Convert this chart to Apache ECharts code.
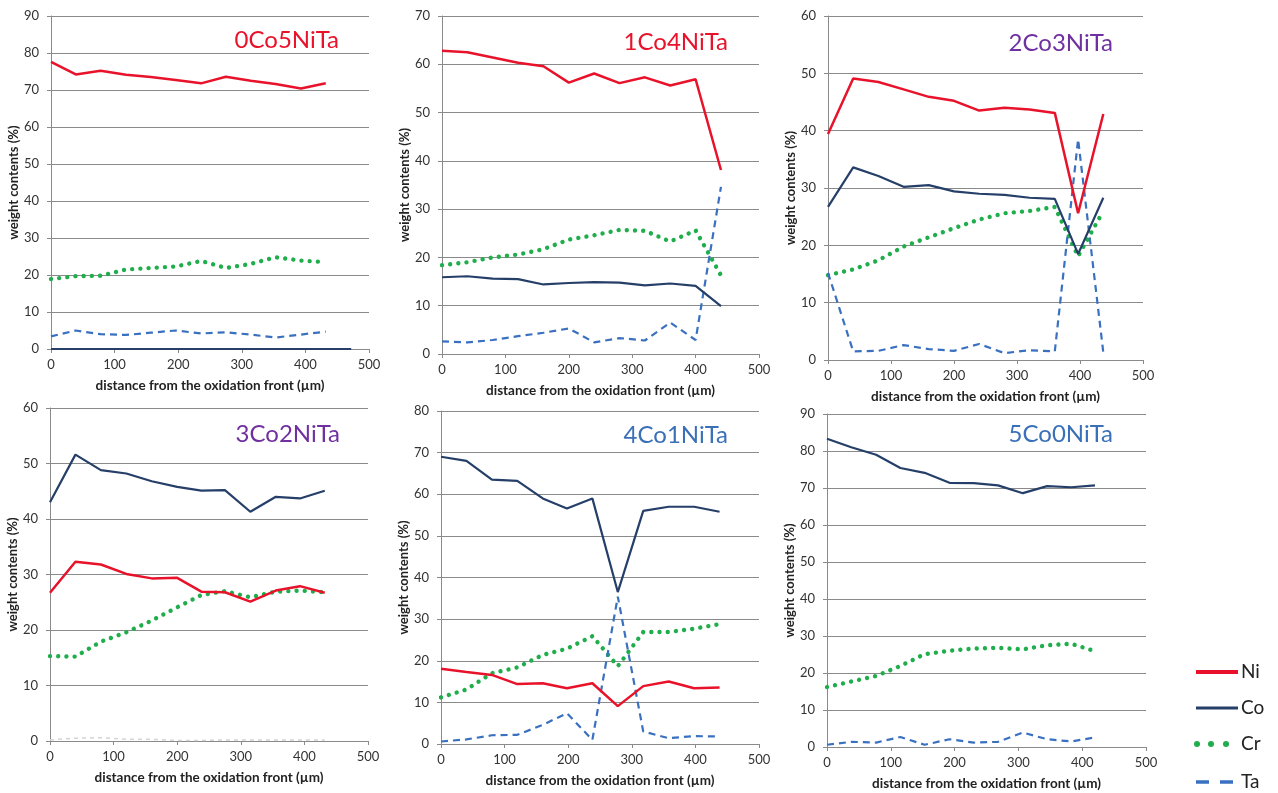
<!DOCTYPE html>
<html>
<head>
<meta charset="utf-8">
<script src="https://cdn.jsdelivr.net/npm/echarts@6/dist/echarts.min.js"></script>
<style>
html,body{margin:0;padding:0;background:#fff;}
#chart{width:1278px;height:793px;}
</style>
</head>
<body>
<div id="chart"></div>
<script>
// ---------- data ----------
const elements = ['Ni', 'Co', 'Cr', 'Ta'];
const panelNames = ['0Co5NiTa', '1Co4NiTa', '2Co3NiTa', '3Co2NiTa', '4Co1NiTa', '5Co0NiTa'];
const yMaxes = [90, 70, 60, 60, 80, 90];
const xTicks = [0, 100, 200, 300, 400, 500];

// Panel 1: 0Co5NiTa
const p1X  = [0, 39, 78, 118, 157, 196, 236, 275, 314, 353, 393, 432];
const p1Ni = [77.6, 74.2, 75.2, 74.1, 73.5, 72.7, 71.8, 73.6, 72.5, 71.6, 70.4, 71.8];
const p1CoX = [0, 472];
const p1Co = [0, 0];
const p1Cr = [18.9, 19.7, 19.8, 21.5, 21.9, 22.3, 23.8, 21.9, 23.0, 24.8, 23.9, 23.5];
const p1Ta = [3.4, 5.0, 4.0, 3.8, 4.4, 5.0, 4.2, 4.5, 3.9, 3.1, 3.9, 4.7];

// Panel 2: 1Co4NiTa
const p2X  = [0, 40, 80, 120, 160, 200, 240, 280, 320, 360, 400, 440];
const p2Ni = [62.8, 62.5, 61.4, 60.3, 59.6, 56.2, 58.1, 56.1, 57.3, 55.6, 56.9, 38.1];
const p2Co = [15.9, 16.1, 15.6, 15.5, 14.4, 14.7, 14.9, 14.8, 14.2, 14.6, 14.1, 9.9];
const p2Cr = [18.4, 19.0, 20.0, 20.6, 21.7, 23.7, 24.6, 25.7, 25.5, 23.3, 25.6, 16.3];
const p2Ta = [2.6, 2.4, 2.9, 3.7, 4.4, 5.3, 2.4, 3.3, 2.8, 6.5, 2.9, 34.6];

// Panel 3: 2Co3NiTa
const p3X  = [0, 40, 80, 120, 160, 200, 240, 280, 320, 360, 397, 437];
const p3Ni = [39.4, 49.1, 48.5, 47.2, 45.9, 45.2, 43.5, 44.0, 43.7, 43.1, 25.6, 42.9];
const p3Co = [26.7, 33.6, 32.1, 30.2, 30.5, 29.4, 29.0, 28.8, 28.3, 28.1, 18.5, 28.3];
const p3Cr = [14.8, 15.8, 17.4, 19.8, 21.4, 23.0, 24.5, 25.6, 26.0, 26.7, 18.1, 26.0];
const p3Ta = [15.2, 1.5, 1.6, 2.6, 1.9, 1.6, 2.8, 1.2, 1.7, 1.5, 38.5, 1.3];

// Panel 4: 3Co2NiTa
const p4X  = [0, 40, 80, 120, 160, 200, 238, 275, 315, 355, 393, 432];
const p4Ni = [26.7, 32.3, 31.8, 30.1, 29.3, 29.4, 26.9, 26.8, 25.1, 27.1, 27.9, 26.7];
const p4Co = [43.0, 51.6, 48.8, 48.2, 46.8, 45.8, 45.1, 45.2, 41.3, 44.0, 43.7, 45.1];
const p4Cr = [15.3, 15.2, 17.9, 19.6, 21.7, 24.1, 26.3, 27.0, 25.9, 26.9, 27.1, 26.8];
const p4Ta = [0.2, 0.5, 0.6, 0.3, 0.3, 0.1, 0.1, 0.2, 0.2, 0.2, 0.2, 0.2];

// Panel 5: 4Co1NiTa
const p5X  = [0, 40, 80, 120, 160, 198, 238, 278, 318, 358, 398, 438];
const p5Ni = [18.1, 17.3, 16.6, 14.4, 14.6, 13.4, 14.6, 9.1, 13.9, 15.0, 13.4, 13.6];
const p5Co = [69.0, 68.0, 63.5, 63.2, 59.0, 56.6, 59.0, 36.5, 56.0, 57.0, 57.0, 55.8];
const p5Cr = [11.2, 13.1, 17.0, 18.4, 21.4, 22.9, 25.9, 18.7, 26.9, 26.9, 27.7, 28.8];
const p5Ta = [0.6, 1.1, 2.1, 2.2, 4.6, 7.4, 1.0, 35.4, 3.0, 1.4, 1.9, 1.8];

// Panel 6: 5Co0NiTa
const p6X  = [0, 38, 77, 115, 153, 192, 230, 268, 307, 345, 383, 420];
const p6Co = [83.3, 81.0, 79.0, 75.4, 74.1, 71.4, 71.3, 70.7, 68.6, 70.5, 70.2, 70.7];
const p6Cr = [16.2, 17.7, 19.2, 21.9, 25.1, 26.0, 26.6, 26.8, 26.4, 27.5, 27.9, 25.9];
const p6Ta = [0.6, 1.4, 1.2, 2.7, 0.6, 2.1, 1.2, 1.4, 3.9, 2.1, 1.5, 2.6];

// ---------- layout / style ----------
const grids = [
  {left: 51,  top: 16,  width: 318, height: 333},
  {left: 442, top: 16,  width: 317, height: 338},
  {left: 828, top: 16,  width: 315, height: 344},
  {left: 50,  top: 408, width: 318, height: 333},
  {left: 441, top: 411, width: 318, height: 333},
  {left: 827, top: 414, width: 319, height: 333}
];
const titlePos = [
  {x: 339, y: 40, color: '#e8132b'},
  {x: 728, y: 42, color: '#e8132b'},
  {x: 1113, y: 43, color: '#7030a0'},
  {x: 340, y: 434, color: '#7030a0'},
  {x: 728, y: 435, color: '#3a70b8'},
  {x: 1113, y: 434, color: '#3a70b8'}
];
const FONT = 'Lato, "Open Sans", sans-serif';
const C_NI = '#e8132b', C_CO = '#253f69', C_CR = '#1fae4b', C_TA = '#3a70c0';

function pairs(xs, ys) { return xs.map((x, i) => [x, ys[i]]); }

const styles = {
  Ni: {color: C_NI, width: 2.5, type: 'solid'},
  Co: {color: C_CO, width: 2.2, type: 'solid'},
  Cr: {color: C_CR, width: 4.4, type: [0.01, 8.2], cap: 'round'},
  Ta: {color: C_TA, width: 2.2, type: [7, 5]}
};

const panelSeries = [
  {Ni: pairs(p1X, p1Ni), Co: pairs(p1CoX, p1Co), Cr: pairs(p1X, p1Cr), Ta: pairs(p1X, p1Ta)},
  {Ni: pairs(p2X, p2Ni), Co: pairs(p2X, p2Co), Cr: pairs(p2X, p2Cr), Ta: pairs(p2X, p2Ta)},
  {Ni: pairs(p3X, p3Ni), Co: pairs(p3X, p3Co), Cr: pairs(p3X, p3Cr), Ta: pairs(p3X, p3Ta)},
  {Ni: pairs(p4X, p4Ni), Co: pairs(p4X, p4Co), Cr: pairs(p4X, p4Cr), Ta: pairs(p4X, p4Ta)},
  {Ni: pairs(p5X, p5Ni), Co: pairs(p5X, p5Co), Cr: pairs(p5X, p5Cr), Ta: pairs(p5X, p5Ta)},
  {Co: pairs(p6X, p6Co), Cr: pairs(p6X, p6Cr), Ta: pairs(p6X, p6Ta)}
];

const xAxes = [], yAxes = [], series = [], titles = [];
grids.forEach((g, i) => {
  xAxes.push({
    type: 'value', gridIndex: i, min: xTicks[0], max: xTicks[xTicks.length - 1], interval: 100,
    name: 'distance from the oxidation front (µm)', nameLocation: 'middle', nameGap: 30,
    nameTextStyle: {fontFamily: FONT, fontWeight: 'bold', fontSize: 13.5, color: '#222'},
    axisLine: {show: true, lineStyle: {color: '#8a8a8a', width: 1}},
    axisTick: {show: true, length: 4, lineStyle: {color: '#8a8a8a'}},
    axisLabel: {fontFamily: FONT, fontSize: 13, color: '#333', margin: 9},
    splitLine: {show: false}
  });
  yAxes.push({
    type: 'value', gridIndex: i, min: 0, max: yMaxes[i], interval: 10,
    name: 'weight contents (%)', nameLocation: 'middle', nameGap: 30, nameRotate: 90,
    nameTextStyle: {fontFamily: FONT, fontWeight: 'bold', fontSize: 13, color: '#222'},
    axisLine: {show: true, lineStyle: {color: '#8a8a8a', width: 1}},
    axisTick: {show: true, length: 4, lineStyle: {color: '#8a8a8a'}},
    axisLabel: {fontFamily: FONT, fontSize: 13, color: '#333', margin: 12},
    splitLine: {show: true, lineStyle: {color: '#8a8a8a', width: 1}}
  });
  const ps = panelSeries[i];
  ['Cr', 'Ta', 'Co', 'Ni'].forEach(el => {
    if (!ps[el]) return;
    const st = styles[el];
    let ls = {color: st.color, width: st.width, type: st.type};
    if (st.cap) ls.cap = st.cap;
    if (i === 3 && el === 'Ta') ls = {color: '#d4d4d4', width: 1.5, type: [4, 4]};
    series.push({
      name: el, type: 'line', xAxisIndex: i, yAxisIndex: i,
      data: ps[el], symbol: 'none', smooth: false, silent: true, animation: false,
      lineStyle: ls, z: el === 'Cr' ? 2 : 3
    });
  });
  titles.push({
    text: panelNames[i], right: 1278 - titlePos[i].x - 5, top: titlePos[i].y - 17,
    textStyle: {fontFamily: FONT, fontSize: 24, fontWeight: 'normal', color: titlePos[i].color}
  });
});

// legend graphics
const legY = [672, 708, 744, 782];
const legendGraphics = [];
legendGraphics.push({type: 'line', shape: {x1: 1196, y1: legY[0], x2: 1238, y2: legY[0]}, style: {stroke: C_NI, lineWidth: 4}});
legendGraphics.push({type: 'line', shape: {x1: 1196, y1: legY[1], x2: 1238, y2: legY[1]}, style: {stroke: C_CO, lineWidth: 3}});
[1197, 1211, 1226].forEach(cx => legendGraphics.push({type: 'circle', shape: {cx: cx, cy: legY[2], r: 3}, style: {fill: C_CR}}));
legendGraphics.push({type: 'line', shape: {x1: 1196, y1: legY[3], x2: 1209, y2: legY[3]}, style: {stroke: C_TA, lineWidth: 3.5}});
legendGraphics.push({type: 'line', shape: {x1: 1220, y1: legY[3], x2: 1233, y2: legY[3]}, style: {stroke: C_TA, lineWidth: 3.5}});
elements.forEach((el, k) => {
  legendGraphics.push({type: 'text', x: 1241, y: legY[k], style: {text: el, fontFamily: FONT, fontSize: 19, fill: '#222', textVerticalAlign: 'middle', textAlign: 'left'}});
});

const chart = echarts.init(document.getElementById('chart'), null, {renderer: 'canvas'});
chart.setOption({
  backgroundColor: '#ffffff',
  animation: false,
  title: titles,
  grid: grids,
  xAxis: xAxes,
  yAxis: yAxes,
  series: series,
  graphic: legendGraphics
});
</script>
</body>
</html>
